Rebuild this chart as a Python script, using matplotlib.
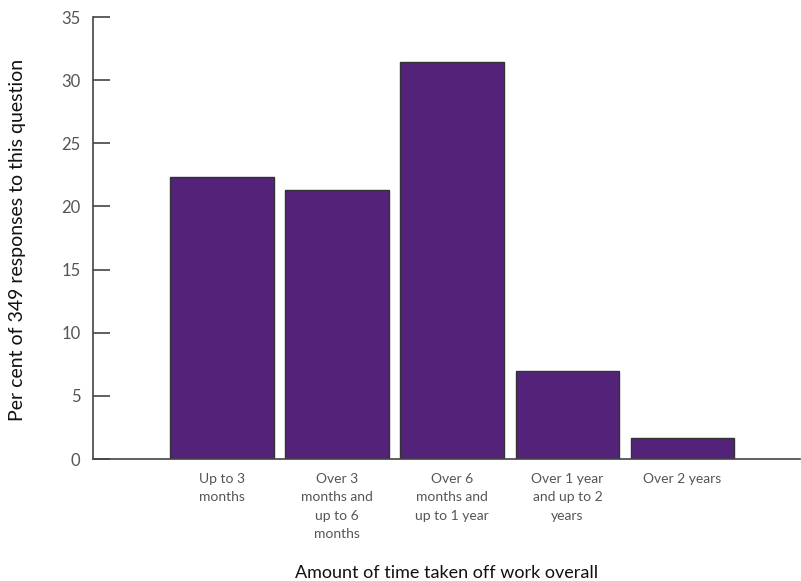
import matplotlib
matplotlib.use("Agg")
import matplotlib.pyplot as plt

categories = ["Up to 3\nmonths", "Over 3\nmonths and\nup to 6\nmonths",
              "Over 6\nmonths and\nup to 1 year", "Over 1 year\nand up to 2\nyears",
              "Over 2 years"]
values = [22.3, 21.3, 31.4, 7.0, 1.7]
yticks = [0, 5, 10, 15, 20, 25, 30, 35]

plt.rcParams['font.family'] = ['Lato', 'DejaVu Sans']

fig = plt.figure(figsize=(8.01, 5.81), dpi=100)
ax = fig.add_axes([93/801, 1-459/581, (800-93)/801, (459-17)/581])

x = list(range(len(categories)))
ax.bar(x, values, width=0.90, color='#532379', edgecolor='#333333', linewidth=1.0, zorder=2)

ax.set_xlim(-1.12, 5.02)
ax.set_ylim(0, 35)
ax.set_yticks(yticks)
ax.set_yticklabels([str(t) for t in yticks], fontsize=12, color='#555555')
ax.tick_params(axis='y', direction='in', length=12, width=1.2, color='#444444', pad=9)
ax.set_xticks(x)
ax.set_xticklabels(categories, fontsize=10, color='#555555', linespacing=1.65)
ax.tick_params(axis='x', length=0, pad=10)

for s in ['top', 'right']:
    ax.spines[s].set_visible(False)
for s in ['left', 'bottom']:
    ax.spines[s].set_color('#444444')
    ax.spines[s].set_linewidth(1.2)

fig.text(18/801, 1-240/581, "Per cent of 349 responses to this question", rotation=90,
         ha='center', va='center', fontsize=14, color='#111111')
fig.text(446.5/801, 1-573/581, "Amount of time taken off work overall",
         ha='center', va='center', fontsize=13, color='#111111')

fig.savefig("out.png", dpi=100)
